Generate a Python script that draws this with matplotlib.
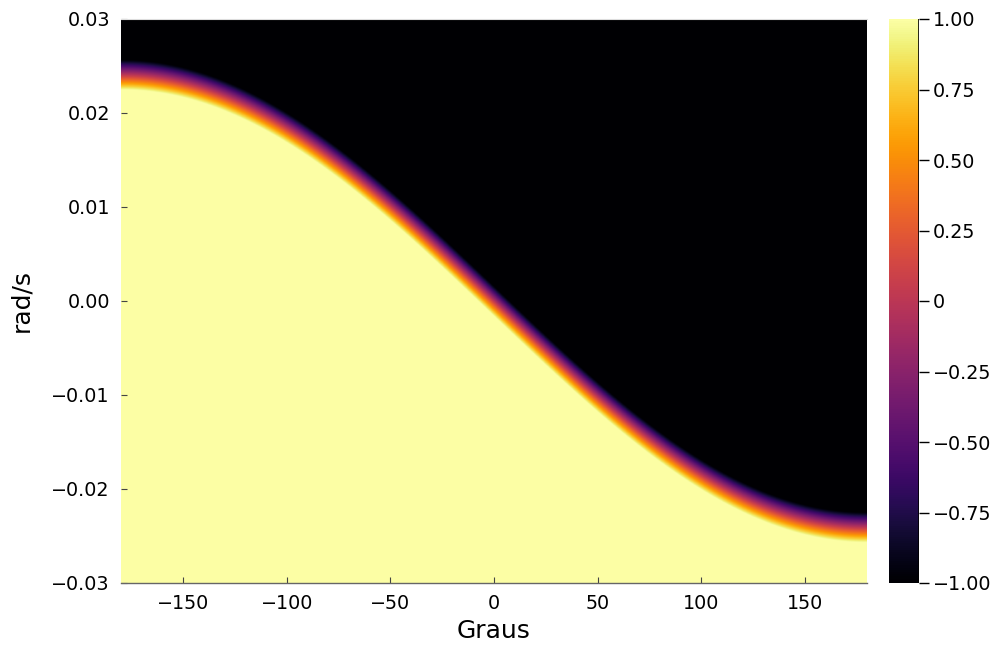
import numpy as np
import matplotlib
matplotlib.use("Agg")
import matplotlib.pyplot as plt

# ---- data ----
theta_range_deg = [-180.0, 180.0]          # x extent (Graus)
omega_range = [-0.03, 0.03]                # y extent (rad/s)
boundary_amplitude = 0.0241                # boundary height at theta = -180 (rad/s)
band_halfwidth = 0.0016                    # half width of colour transition (rad/s)
value_limits = [-1.0, 1.0]

x_ticks = [-150, -100, -50, 0, 50, 100, 150]
x_ticklabels = ["\u2212150", "\u2212100", "\u221250", "0", "50", "100", "150"]
y_ticks = [0.03, 0.02, 0.01, 0.0, -0.01, -0.02, -0.03]
y_ticklabels = ["0.03", "0.02", "0.01", "0.00", "\u22120.01", "\u22120.02", "\u22120.03"]
cb_ticks = [1.0, 0.75, 0.5, 0.25, 0.0, -0.25, -0.5, -0.75, -1.0]
cb_ticklabels = ["1.00", "0.75", "0.50", "0.25", "0", "\u22120.25", "\u22120.50", "\u22120.75", "\u22121.00"]
x_label = "Graus"
y_label = "rad/s"

# ---- field ----
theta = np.linspace(theta_range_deg[0], theta_range_deg[1], 901)
omega = np.linspace(omega_range[0], omega_range[1], 901)
T, W = np.meshgrid(theta, omega)
boundary = -boundary_amplitude * np.sin(np.deg2rad(T) / 2.0)
Z = np.clip((boundary - W) / band_halfwidth, value_limits[0], value_limits[1])

fig = plt.figure(figsize=(9.91, 6.48), dpi=100)
ax = fig.add_axes([121 / 991, 65 / 648, 746 / 991, 564 / 648])
cax = fig.add_axes([889 / 991, 65 / 648, 30 / 991, 564 / 648])

im = ax.imshow(Z, origin="lower", aspect="auto", cmap="inferno",
               vmin=value_limits[0], vmax=value_limits[1],
               extent=[theta_range_deg[0], theta_range_deg[1], omega_range[0], omega_range[1]],
               interpolation="bilinear")
ax.set_xlim(theta_range_deg)
ax.set_ylim(omega_range)

ax.set_xticks(x_ticks)
ax.set_xticklabels(x_ticklabels)
ax.set_yticks(y_ticks)
ax.set_yticklabels(y_ticklabels)
ax.tick_params(axis="both", direction="in", length=4, width=0.8, labelsize=13.8,
               colors="#444444", labelcolor="black", pad=8)
ax.tick_params(axis="x", pad=8)
for s in ["left", "right"]:
    ax.spines[s].set_visible(False)
ax.spines["bottom"].set_color("#666666")
ax.spines["bottom"].set_linewidth(1.0)
ax.spines["top"].set_color("#dddddd")
ax.spines["top"].set_linewidth(0.8)

ax.set_xlabel(x_label, fontsize=18)
ax.set_ylabel(y_label, fontsize=18)
ax.xaxis.set_label_coords(0.5, -0.064)
ax.yaxis.set_label_coords(-0.117, 0.5)

cb = fig.colorbar(im, cax=cax)
cb.set_ticks(cb_ticks)
cb.set_ticklabels(cb_ticklabels)
cb.outline.set_visible(False)
cax.tick_params(direction="out", length=7, width=1.0, labelsize=13.8, pad=3, colors="black")
cax.axvline(1.0, color="black", linewidth=1.2)

fig.savefig("out.png", dpi=100)
